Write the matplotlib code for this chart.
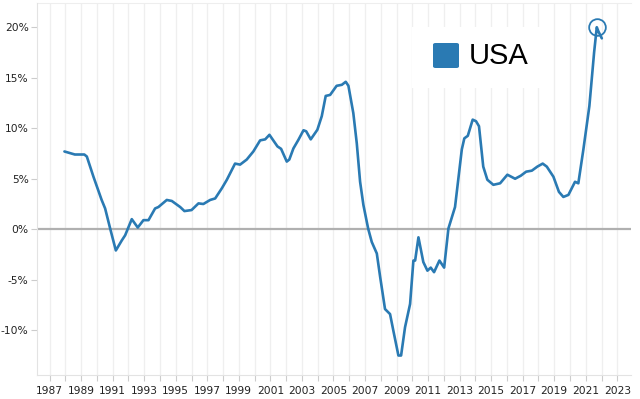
import matplotlib
matplotlib.use("Agg")
import matplotlib.pyplot as plt
import matplotlib.patches as mpatches

# values (decimal year, % change year over year)
years = [1987.94, 1988.6, 1989.2, 1989.36, 1989.78, 1990.3, 1990.52, 1990.84, 1991.2,
         1991.58, 1991.79, 1992.21, 1992.59, 1992.95, 1993.27, 1993.69, 1993.9, 1994.43,
         1994.75, 1995.28, 1995.55, 1996.0, 1996.44, 1996.75, 1997.18, 1997.5, 1997.92,
         1998.24, 1998.76, 1999.08, 1999.5, 1999.92, 2000.35, 2000.67, 2000.94, 2001.45,
         2001.68, 2002.04, 2002.2, 2002.46, 2002.78, 2003.1, 2003.27, 2003.56, 2003.98,
         2004.26, 2004.51, 2004.79, 2005.2, 2005.53, 2005.78, 2005.95, 2006.26, 2006.48,
         2006.69, 2006.9, 2007.2, 2007.43, 2007.75, 2007.96, 2008.27, 2008.59, 2008.8,
         2009.12, 2009.29, 2009.54, 2009.86, 2010.07, 2010.18, 2010.39, 2010.7, 2010.96,
         2011.17, 2011.38, 2011.72, 2012.02, 2012.29, 2012.71, 2013.14, 2013.3, 2013.52,
         2013.83, 2014.04, 2014.23, 2014.5, 2014.76, 2015.14, 2015.57, 2016.03, 2016.52,
         2016.88, 2017.22, 2017.58, 2017.93, 2018.27, 2018.53, 2018.95, 2019.3, 2019.58,
         2019.9, 2020.32, 2020.53, 2020.85, 2021.23, 2021.53, 2021.7, 2021.8, 2022.02]
values = [7.7, 7.4, 7.4, 7.2, 5.2, 2.9, 2.06, 0.07, -2.1,
          -1.1, -0.6, 1.0, 0.17, 0.9, 0.9, 2.06, 2.2, 2.9,
          2.8, 2.2, 1.8, 1.9, 2.56, 2.5, 2.9, 3.05, 4.05,
          4.9, 6.5, 6.4, 6.9, 7.7, 8.8, 8.9, 9.35, 8.2,
          7.96, 6.7, 6.9, 8.0, 8.86, 9.8, 9.7, 8.9, 9.85,
          11.2, 13.2, 13.3, 14.2, 14.3, 14.6, 14.2, 11.5, 8.5,
          4.7, 2.4, 0.07, -1.26, -2.4, -4.7, -7.9, -8.4, -10.05,
          -12.5, -12.5, -9.7, -7.4, -3.1, -3.1, -0.8, -3.25, -4.1,
          -3.8, -4.25, -3.1, -3.8, 0.07, 2.2, 7.9, 9.0, 9.25,
          10.85, 10.7, 10.2, 6.2, 4.9, 4.4, 4.55, 5.4, 5.0,
          5.3, 5.7, 5.8, 6.2, 6.5, 6.2, 5.2, 3.7, 3.2,
          3.4, 4.7, 4.55, 7.9, 12.2, 17.5, 20.0, 19.6, 18.9]
peak_year, peak_value = 2021.7, 20.0
ytick_vals = [-10, -5, 0, 5, 10, 15, 20]

line_color = '#2a7ab3'

fig = plt.figure(figsize=(6.4, 3.99), dpi=100)
ax = fig.add_axes([37/640, 24/399, 594/640, 372/399])

# yearly light vertical grid
for yr in range(1987, 2024):
    ax.axvline(yr, color='#efefef', lw=0.9, zorder=0)
ax.axhline(0, color='#b0b0b0', lw=1.6, zorder=1)

ax.plot(years, values, color=line_color, lw=1.9, zorder=3,
        solid_capstyle='round', solid_joinstyle='round')
ax.plot(peak_year, peak_value, 'o', ms=12, mfc='none', mec=line_color, mew=1.3, zorder=4)

ax.set_xlim(1986.2, 2023.87)
ax.set_ylim(-14.43, 22.4)

ax.set_xticks(range(1987, 2024, 2))
ax.set_xticks(range(1987, 2024), minor=True)
ax.set_yticks(ytick_vals)
ax.set_yticklabels([f'{v}%' for v in ytick_vals])
ax.tick_params(axis='both', which='both', labelsize=7.7, colors='#cccccc',
               labelcolor='#222222', length=4, width=0.8, pad=4)
ax.tick_params(axis='y', length=4, pad=2)

for s in ['top', 'right']:
    ax.spines[s].set_visible(False)
ax.spines['left'].set_color('#e3e3e3')
ax.spines['bottom'].set_color('#e3e3e3')
ax.plot([0, 1], [1, 1], transform=ax.transAxes, color='#eeeeee', lw=0.8, clip_on=False)

# legend box (white block hiding the grid, blue swatch, label)
fig.patches.append(mpatches.Rectangle((412/640, 1 - 88/399), 128/640, 61/399,
                                      transform=fig.transFigure, facecolor='white',
                                      edgecolor='none', zorder=5))
fig.patches.append(mpatches.FancyBboxPatch((433/640, 1 - 68/399), 26/640, 25/399,
                                           boxstyle='round,pad=0,rounding_size=0.004',
                                           transform=fig.transFigure, facecolor=line_color,
                                           edgecolor='none', zorder=6))
fig.text(469/640, 1 - 56/399, 'USA', fontsize=21, family='Liberation Sans',
         va='center', ha='left', color='black', zorder=7)

fig.savefig('out.png', dpi=100, facecolor='white')
